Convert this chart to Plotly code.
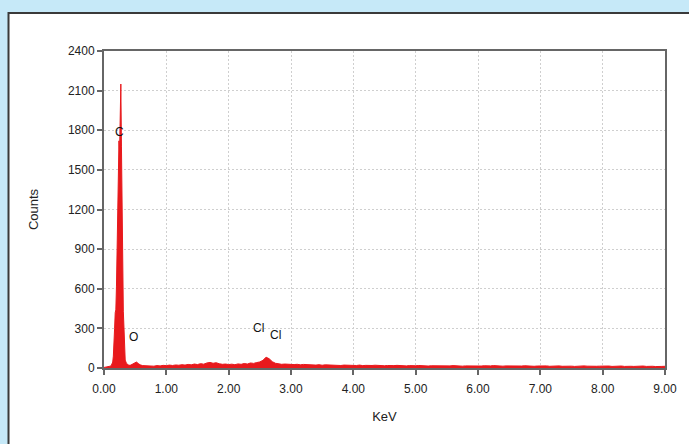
import plotly.graph_objects as go

# Energy (keV) and counts
energy_peak = [0.00, 0.05, 0.10, 0.12, 0.14, 0.15, 0.16, 0.17, 0.18, 0.19, 0.20, 0.21,
               0.22, 0.23, 0.24, 0.25, 0.26, 0.27, 0.28, 0.29, 0.30, 0.31, 0.32, 0.33,
               0.34, 0.36, 0.38, 0.40, 0.43, 0.46, 0.49, 0.52, 0.55, 0.58, 0.62, 0.66]
counts_peak = [4, 8, 14, 22, 45, 90, 160, 300, 420, 440, 620, 950,
               1380, 1600, 1720, 1640, 1820, 2150, 1680, 1150, 620, 430, 310, 130,
               60, 35, 24, 20, 22, 30, 38, 45, 34, 24, 18, 16]

energy_bg = [0.70, 0.75, 0.80, 0.85, 0.90, 0.95, 1.00, 1.05, 1.10, 1.15, 1.20, 1.25,
             1.30, 1.35, 1.40, 1.45, 1.50, 1.55, 1.60, 1.65, 1.70, 1.75, 1.80, 1.85,
             1.90, 1.95, 2.00, 2.05, 2.10, 2.15, 2.20, 2.25, 2.30, 2.35, 2.40, 2.45,
             2.50, 2.55, 2.60, 2.65, 2.70, 2.75, 2.80, 2.85, 2.90, 2.95, 3.00, 3.05,
             3.10, 3.15, 3.20, 3.25, 3.30, 3.35, 3.40, 3.45, 3.50, 3.55, 3.60, 3.65,
             3.70, 3.75, 3.80, 3.85, 3.90, 3.95, 4.00, 4.05, 4.10, 4.15, 4.20, 4.25,
             4.30, 4.35, 4.40, 4.45, 4.50, 4.55, 4.60, 4.65, 4.70, 4.75, 4.80, 4.85,
             4.90, 4.95, 5.00, 5.05, 5.10, 5.15, 5.20, 5.25, 5.30, 5.35, 5.40, 5.45,
             5.50, 5.55, 5.60, 5.65, 5.70, 5.75, 5.80, 5.85, 5.90, 5.95, 6.00, 6.05,
             6.10, 6.15, 6.20, 6.25, 6.30, 6.35, 6.40, 6.45, 6.50, 6.55, 6.60, 6.65,
             6.70, 6.75, 6.80, 6.85, 6.90, 6.95, 7.00, 7.05, 7.10, 7.15, 7.20, 7.25,
             7.30, 7.35, 7.40, 7.45, 7.50, 7.55, 7.60, 7.65, 7.70, 7.75, 7.80, 7.85,
             7.90, 7.95, 8.00, 8.05, 8.10, 8.15, 8.20, 8.25, 8.30, 8.35, 8.40, 8.45,
             8.50, 8.55, 8.60, 8.65, 8.70, 8.75, 8.80, 8.85, 8.90, 8.95, 9.00]
counts_bg = [15, 17, 14, 18, 16, 20, 18, 22, 19, 23, 21, 25,
             22, 27, 24, 30, 26, 33, 29, 38, 42, 36, 40, 32,
             28, 30, 26, 29, 25, 31, 28, 34, 30, 38, 35, 41,
             46, 58, 82, 70, 48, 36, 32, 28, 30, 27, 29, 26,
             28, 24, 27, 25, 23, 26, 22, 25, 21, 24, 22, 20,
             23, 21, 19, 22, 20, 18, 21, 19, 22, 18, 20, 17,
             19, 21, 18, 20, 17, 19, 16, 18, 20, 17, 19, 16,
             18, 15, 17, 19, 16, 18, 15, 17, 16, 18, 15, 17,
             14, 16, 18, 15, 17, 14, 16, 15, 17, 14, 16, 15,
             17, 14, 16, 18, 15, 17, 14, 16, 15, 13, 16, 14,
             15, 17, 14, 16, 13, 15, 17, 14, 16, 13, 15, 14,
             16, 13, 15, 17, 14, 12, 15, 13, 16, 14, 12, 15,
             13, 14, 16, 13, 15, 12, 14, 13, 15, 12, 14, 13,
             12, 14, 13, 15, 12, 14, 13, 11, 14, 12, 13]

energy = energy_peak + energy_bg
counts = counts_peak + counts_bg

peak_labels = ["C", "O", "Cl", "Cl"]
label_energy = [0.25, 0.48, 2.48, 2.75]
label_counts = [1790, 235, 305, 248]

y_ticks = [0, 300, 600, 900, 1200, 1500, 1800, 2100, 2400]
x_ticks = [0, 1, 2, 3, 4, 5, 6, 7, 8, 9]

W, H = 689, 444
ml, mr, mt, mb = 104, 21, 51, 76
pw, ph = W - ml - mr, H - mt - mb

FONT = "Liberation Sans, Arial"

fig = go.Figure()
fig.add_trace(go.Scatter(
    x=energy, y=counts, mode="lines", fill="tozeroy",
    line=dict(color="#e8191c", width=1), fillcolor="#e8191c",
    hoverinfo="skip", showlegend=False))

for t, ex, cy in zip(peak_labels, label_energy, label_counts):
    fig.add_annotation(x=ex, y=cy, text=t, showarrow=False,
                       font=dict(family=FONT, size=12, color="#111"))

def px(xp):
    return (xp - ml) / pw

def py(yp):
    return (H - mb - yp) / ph

fig.add_shape(type="rect", xref="paper", yref="paper",
              x0=px(8), x1=px(700), y0=py(460), y1=py(13),
              fillcolor="white", line=dict(color="#3a3a3a", width=2), layer="below")

axis_common = dict(
    showline=True, linecolor="#666", linewidth=2, mirror=True,
    ticks="outside", ticklen=5, tickcolor="#666", tickwidth=1.5,
    showgrid=True, gridcolor="#cfcfcf", gridwidth=1.2, griddash="2px,2px",
    zeroline=False,
    tickfont=dict(family=FONT, size=12, color="#222"),
)

fig.update_layout(
    width=W, height=H,
    margin=dict(l=ml, r=mr, t=mt, b=mb),
    paper_bgcolor="#c6e9f8", plot_bgcolor="white",
    xaxis=dict(range=[0, 9], tickvals=x_ticks,
               ticktext=[f"{v:.2f}" for v in x_ticks],
               ticklabelstandoff=4,
               title=dict(text="KeV", standoff=16,
                          font=dict(family=FONT, size=13, color="#222")),
               **axis_common),
    yaxis=dict(range=[0, 2400], tickvals=y_ticks,
               title=dict(text="Counts", standoff=26,
                          font=dict(family=FONT, size=13, color="#222")),
               **axis_common),
)

fig.write_html(
    "out.html",
    config={"displayModeBar": False},
    post_script="document.body.style.margin='0';document.body.style.overflow='hidden';"
                "document.body.style.background='#c6e9f8';",
)
